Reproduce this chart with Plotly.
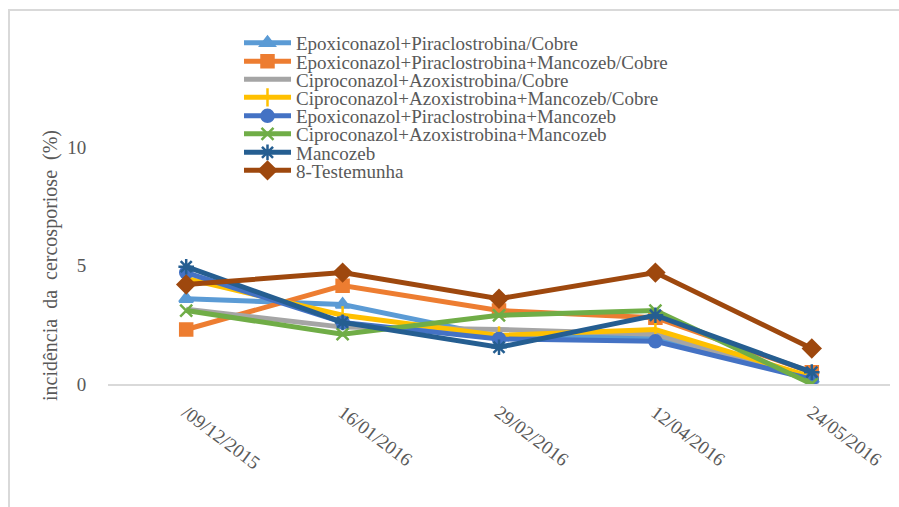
import plotly.graph_objects as go

# Sampling dates (category axis)
dates = ["/09/12/2015", "16/01/2016", "29/02/2016", "12/04/2016", "24/05/2016"]

# Incidence of cercosporiose (%) per treatment
epox_pir_cobre = [3.6, 3.35, 2.0, 2.0, 0.2]
epox_pir_manc_cobre = [2.3, 4.15, 3.1, 2.8, 0.5]
cipro_azo_cobre = [3.15, 2.4, 2.3, 2.1, 0.2]
cipro_azo_manc_cobre = [4.45, 2.9, 2.05, 2.3, 0.3]
epox_pir_manc = [4.7, 2.6, 1.9, 1.8, 0.2]
cipro_azo_manc = [3.1, 2.1, 2.9, 3.1, 0.0]
mancozeb = [4.95, 2.6, 1.55, 2.9, 0.5]
testemunha = [4.2, 4.7, 3.6, 4.7, 1.5]

series = [
    ("Epoxiconazol+Piraclostrobina/Cobre", epox_pir_cobre, "#5B9BD5", "triangle-up", 12),
    ("Epoxiconazol+Piraclostrobina+Mancozeb/Cobre", epox_pir_manc_cobre, "#ED7D31", "square", 12),
    ("Ciproconazol+Azoxistrobina/Cobre", cipro_azo_cobre, "#A5A5A5", None, 0),
    ("Ciproconazol+Azoxistrobina+Mancozeb/Cobre", cipro_azo_manc_cobre, "#FFC000", "line-ns", 13),
    ("Epoxiconazol+Piraclostrobina+Mancozeb", epox_pir_manc, "#4472C4", "circle", 12),
    ("Ciproconazol+Azoxistrobina+Mancozeb", cipro_azo_manc, "#70AD47", "x-thin", 12),
    ("Mancozeb", mancozeb, "#255E91", "asterisk", 13),
    ("8-Testemunha", testemunha, "#9E480E", "diamond", 13),
]

FONT = "Liberation Serif, Times New Roman, serif"
TXT = "#595959"

# Plot area: x 108..890 px, y 147..384 px
L, R, T, B = 108, 9, 147, 123
W, H = 899, 507
pw, ph = W - L - R, H - T - B


def px_x(x):
    return (x - L) / pw


def px_y(y):
    return (H - B - y) / ph


# legend rows (pixel centres), one legend per treatment to keep rows tight
legend_rows = [43, 61.5, 79.5, 97.5, 116, 134, 152.5, 170.5]

fig = go.Figure()
legend_layout = {}
for i, (name, vals, color, sym, size) in enumerate(series):
    marker = dict(color=color, size=size)
    if sym is None:
        mode = "lines"
    else:
        mode = "lines+markers"
        marker["symbol"] = sym
        marker["line"] = dict(color=color, width=2.5)
    key = "legend" if i == 0 else f"legend{i + 1}"
    fig.add_trace(go.Scatter(
        x=dates, y=vals, name=name, mode=mode,
        line=dict(color=color, width=5),
        marker=marker, legend=key,
    ))
    legend_layout[key] = dict(
        x=px_x(239), y=px_y(legend_rows[i]), xanchor="left", yanchor="middle",
        font=dict(family=FONT, size=19, color=TXT),
        bgcolor="rgba(0,0,0,0)", itemwidth=47,
    )

fig.update_layout(
    width=W, height=H,
    margin=dict(l=L, r=R, t=T, b=B),
    paper_bgcolor="white", plot_bgcolor="white",
    font=dict(family=FONT, size=19, color=TXT),
    showlegend=True,
    xaxis=dict(
        type="category", range=[-0.5, 4.5],
        showgrid=False, zeroline=False,
        showline=True, linecolor="#D9D9D9", linewidth=2,
        ticks="", tickangle=37, ticklabelstandoff=8,
        tickfont=dict(family=FONT, size=19, color=TXT),
    ),
    yaxis=dict(
        range=[0, 10], tickvals=[0, 5, 10],
        showgrid=False, zeroline=False, showline=False,
        ticks="outside", ticklen=17, tickcolor="rgba(0,0,0,0)",
        tickfont=dict(family=FONT, size=19, color=TXT),
        title=dict(text="incidência  da  cercosporiose  (%)",
                   font=dict(family=FONT, size=20, color=TXT), standoff=4),
    ),
    shapes=[dict(
        type="rect", xref="paper", yref="paper",
        x0=px_x(9), y0=px_y(520), x1=px_x(915), y1=px_y(10),
        line=dict(color="#D9D9D9", width=2), layer="below",
    )],
    **legend_layout,
)

fig.write_html("out.html")
